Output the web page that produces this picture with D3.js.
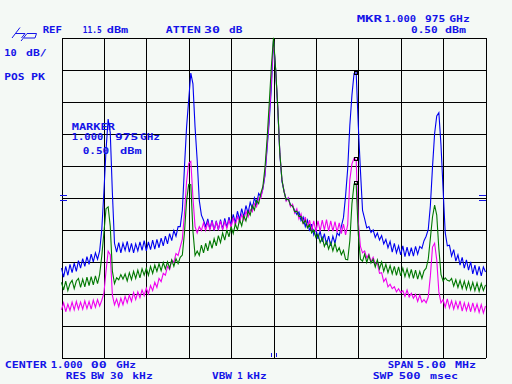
<!DOCTYPE html>
<html>
  <head>
    <script type="text/javascript" src="https://cdn.jsdelivr.net/npm/d3@7/dist/d3.min.js"></script>
    <style type="text/css">

html, body {
  margin: 0;
  background: #f4f9f5;
}

svg {
  display: block;
}

.grid line, .grid path {
  stroke: #000;
  stroke-width: 1;
  shape-rendering: crispEdges;
}

.lbl {
  font-family: "DejaVu Sans Mono", monospace;
  font-weight: bold;
  font-size: 9px;
  fill: #1414e8;
}

.trace {
  fill: none;
  stroke-width: 1.1;
}

    </style>
  </head>
  <body>
    <div id="chart"></div>
    <script type="text/javascript">

// analyzer settings
var refLevel = 11.5,      // dBm, top of screen
    dbPerDiv = 10,
    spanMHz = 5,
    sweepPoints = 201;

var markerOffset = 0.975; // MHz from center
var markerLevels = {blue: 0.5, magenta: -26.6, green: -34.1};
var displayLineLevels = [-37.6, -39.4];
var centerTicks = [-0.035, 0.027];

// traces in dBm, one value per sweep point (left to right)
var blueTrace = [
  -60.6,-63.4,-60.0,-62.8,-59.4,-62.0,-59.0,-61.6,-58.2,-60.6,
  -57.6,-60.0,-57.0,-59.4,-56.2,-58.6,-55.8,-57.8,-55.2,-48.5,
  -36.8,-23.7,-14.0,-18.2,-37.0,-52.8,-55.6,-52.6,-55.8,-52.8,
  -55.0,-52.2,-55.6,-52.8,-55.8,-53.0,-55.2,-52.4,-55.0,-52.0,
  -55.2,-52.4,-54.8,-51.8,-54.6,-51.6,-54.2,-51.2,-53.6,-50.6,
  -53.0,-49.8,-52.0,-48.8,-50.6,-47.6,-47.6,-42.5,-29.0,-16.5,
  -8.0,0.4,-3.0,-16.5,-26.8,-39.5,-44.0,-45.6,-47.6,-45.2,
  -48.4,-45.6,-48.8,-45.8,-48.6,-45.4,-48.4,-45.0,-47.8,-44.6,
  -47.2,-43.8,-46.4,-42.8,-45.4,-42.0,-44.6,-41.0,-43.4,-40.0,
  -42.0,-38.6,-40.6,-37.2,-38.2,-35.8,-31.5,-23.0,-14.5,-4.0,
  10.5,1.5,-10.5,-25.0,-33.5,-36.6,-39.4,-38.6,-41.0,-41.0,
  -42.6,-43.8,-43.0,-45.8,-44.6,-47.6,-45.6,-49.0,-46.8,-50.2,
  -48.2,-51.4,-49.0,-52.4,-49.8,-53.2,-50.6,-53.6,-50.6,-52.8,
  -49.6,-50.4,-47.5,-44.8,-38.0,-29.5,-16.0,-6.5,0.3,0.5,
  -16.0,-30.0,-42.5,-45.2,-48.0,-47.6,-49.4,-48.6,-51.0,-49.6,
  -51.8,-50.4,-53.0,-51.6,-54.2,-52.2,-55.6,-52.8,-55.8,-53.6,
  -56.4,-53.6,-57.0,-54.0,-56.8,-54.2,-56.8,-53.8,-56.2,-53.8,
  -54.4,-52.0,-50.6,-48.5,-41.0,-29.0,-18.5,-13.0,-12.0,-22.0,
  -36.0,-49.5,-53.6,-53.4,-56.8,-54.8,-58.4,-56.4,-59.6,-57.2,
  -60.6,-58.0,-61.2,-58.6,-62.4,-59.6,-62.8,-60.0,-63.0,-60.2,
  -61.8
];

var magentaTrace = [
  -73.6,-71.4,-74.2,-71.8,-73.8,-71.2,-73.6,-71.0,-73.4,-71.2,
  -73.4,-70.8,-73.2,-71.0,-73.4,-70.6,-72.8,-70.4,-72.4,-70.6,
  -68.4,-61.5,-55.3,-56.4,-69.0,-72.0,-70.2,-72.6,-70.0,-72.0,
  -69.4,-71.4,-69.0,-71.0,-68.2,-70.4,-68.0,-69.8,-67.4,-69.2,
  -66.8,-68.6,-66.0,-67.6,-65.0,-66.6,-63.8,-64.8,-62.2,-62.8,
  -60.0,-61.0,-58.0,-58.8,-56.0,-56.6,-54.0,-51.5,-43.5,-33.5,
  -27.8,-27.2,-38.5,-47.6,-49.6,-47.6,-48.8,-46.4,-48.8,-46.2,
  -48.6,-46.0,-48.8,-46.2,-48.4,-45.8,-48.6,-46.0,-48.2,-45.6,
  -47.8,-44.8,-47.2,-44.4,-46.2,-43.8,-45.6,-42.8,-44.6,-42.2,
  -43.0,-40.4,-41.4,-38.6,-38.8,-35.6,-31.0,-22.0,-13.0,-2.0,
  10.8,1.6,-10.2,-24.6,-33.2,-36.4,-39.6,-38.6,-41.4,-40.6,
  -43.4,-42.0,-45.2,-43.6,-46.8,-44.6,-47.8,-45.6,-48.8,-45.8,
  -49.2,-45.8,-49.0,-45.6,-48.6,-45.4,-49.0,-45.8,-49.0,-46.0,
  -49.4,-46.4,-49.8,-46.8,-50.2,-47.0,-33.0,-28.0,-26.2,-26.8,
  -46.0,-53.8,-55.8,-55.2,-57.4,-56.2,-58.6,-57.2,-59.2,-59.0,
  -62.2,-62.0,-64.8,-63.8,-66.4,-65.6,-67.0,-66.4,-68.0,-67.0,
  -68.2,-67.6,-69.4,-67.4,-69.6,-68.4,-70.0,-68.8,-71.0,-69.0,
  -71.2,-70.4,-71.4,-69.6,-63.0,-54.0,-52.8,-58.0,-68.0,-71.4,
  -70.4,-72.8,-70.2,-73.0,-70.8,-73.4,-71.0,-73.2,-70.8,-74.0,
  -71.4,-73.8,-71.6,-74.2,-71.4,-74.0,-71.8,-74.4,-72.0,-74.6,
  -72.4
];

var greenTrace = [
  -65.0,-67.4,-64.6,-67.6,-65.4,-64.4,-67.0,-64.6,-63.8,-66.6,
  -64.0,-66.4,-63.4,-66.0,-63.2,-65.8,-63.0,-65.4,-62.5,-56.8,
  -49.5,-42.0,-41.4,-47.5,-61.5,-65.4,-63.6,-64.2,-62.6,-64.0,
  -62.4,-64.6,-62.0,-64.2,-61.6,-63.8,-61.2,-63.6,-60.8,-62.8,
  -60.6,-62.8,-60.0,-62.2,-59.6,-61.6,-59.2,-61.4,-58.8,-60.8,
  -58.6,-60.6,-58.0,-60.0,-57.6,-59.2,-57.2,-56.5,-49.5,-39.5,
  -34.4,-34.5,-49.0,-56.6,-55.2,-56.6,-53.4,-55.8,-52.8,-55.2,
  -52.0,-54.4,-51.4,-53.6,-50.4,-52.6,-49.6,-51.8,-48.6,-50.8,
  -47.6,-49.8,-46.8,-48.6,-45.4,-47.4,-44.2,-45.8,-42.8,-44.0,
  -41.0,-42.4,-39.4,-40.4,-37.2,-35.0,-29.0,-20.0,-9.0,2.5,
  11.4,1.8,-10.0,-24.8,-33.0,-36.8,-39.2,-39.0,-40.8,-41.2,
  -43.0,-42.8,-44.4,-44.4,-46.6,-45.6,-48.0,-47.0,-49.6,-48.6,
  -51.0,-50.0,-52.6,-51.0,-53.8,-52.2,-54.6,-52.6,-55.2,-52.8,
  -55.4,-54.2,-56.4,-55.0,-57.8,-58.0,-52.0,-40.5,-34.3,-34.2,
  -50.0,-57.8,-58.4,-56.2,-58.8,-56.6,-59.0,-57.8,-60.2,-58.0,
  -60.8,-58.6,-61.6,-59.4,-62.0,-59.8,-62.4,-60.0,-62.8,-60.2,
  -63.0,-60.6,-63.2,-60.8,-63.4,-61.0,-63.8,-61.2,-64.0,-61.6,
  -63.8,-61.4,-60.6,-57.8,-51.2,-44.6,-40.9,-44.0,-54.5,-62.5,
  -64.6,-63.6,-64.4,-64.6,-63.8,-66.2,-64.2,-66.6,-64.4,-67.0,
  -64.6,-67.2,-64.8,-67.4,-65.0,-67.6,-65.2,-67.8,-65.4,-67.6,
  -65.8
];

// screen annotations, word by word: [text, left, right, baseline]
var labels = [
  ["REF", 42.7, 62.0, 32.7], ["11.5", 82.7, 101.7, 32.7], ["dBm", 106.7, 128.3, 32.7],
  ["ATTEN", 165.7, 200.7, 32.7], ["30", 204, 220, 32.7], ["dB", 229, 242.3, 32.7],
  ["MKR", 356.7, 382, 22], ["1.000", 384.5, 416, 22], ["975", 425, 445.3, 22], ["GHz", 449.3, 469.7, 22],
  ["0.50", 411, 437.7, 32.7], ["dBm", 445, 466, 32.7],
  ["10", 4.3, 16.7, 56], ["dB/", 26, 46.7, 56],
  ["POS", 4.3, 24.5, 79.5], ["PK", 31, 45, 79.5],
  ["MARKER", 71.7, 115, 129.8],
  ["1.000", 71.7, 103.3, 139.6], ["975", 115, 138.3, 139.6], ["GHz", 140, 160, 139.6],
  ["0.50", 82.7, 109.3, 154.3], ["dBm", 120, 141.7, 154.3],
  ["CENTER", 4.7, 46.7, 368], ["1.000", 50.7, 82.7, 368], ["00", 90.7, 106.7, 368], ["GHz", 116, 136, 368],
  ["SPAN", 387.7, 413.3, 368], ["5.00", 416.7, 446, 368], ["MHz", 455, 476, 368],
  ["RES", 65.7, 86, 379.3], ["BW", 90.7, 104, 379.3], ["30", 110, 123.3, 379.3], ["kHz", 132.3, 152.7, 379.3],
  ["VBW", 212, 232, 379.3], ["1", 237.3, 242, 379.3], ["kHz", 246.7, 266.7, 379.3],
  ["SWP", 372.7, 393.3, 379.3], ["500", 398.7, 420.7, 379.3], ["msec", 430, 458, 379.3]
];

var width = 512,
    height = 384;

var freqs = d3.range(sweepPoints).map(function(i) {
  return -spanMHz / 2 + i * spanMHz / (sweepPoints - 1);
});

var x = d3.scaleLinear().domain([-spanMHz / 2, spanMHz / 2]).range([61.5, 485.5]);
var y = d3.scaleLinear().domain([refLevel - 10 * dbPerDiv, refLevel]).range([357.5, 37.5]);

var svg = d3.select("#chart").append("svg")
    .attr("width", width)
    .attr("height", height);

// graticule
var yLevels = d3.range(0, 11).map(function(i) { return refLevel - i * dbPerDiv; });

svg.append("g")
    .attr("class", "grid")
    .attr("transform", "translate(0," + y.range()[0] + ")")
    .call(d3.axisBottom(x).tickValues(x.ticks(10)).tickSize(-(y.range()[0] - y.range()[1])).tickSizeOuter(0).tickFormat(""));

svg.append("g")
    .attr("class", "grid")
    .attr("transform", "translate(" + x.range()[0] + ",0)")
    .call(d3.axisLeft(y).tickValues(yLevels).tickSize(-(x.range()[1] - x.range()[0])).tickSizeOuter(0).tickFormat(""));

svg.selectAll(".grid path").remove();

// display line marks at both edges
displayLineLevels.forEach(function(v) {
  svg.append("line").attr("x1", 60).attr("x2", 67).attr("y1", Math.round(y(v)) + 0.5).attr("y2", Math.round(y(v)) + 0.5)
      .attr("stroke", "#1414e8");
  svg.append("line").attr("x1", 479).attr("x2", 486).attr("y1", Math.round(y(v)) + 0.5).attr("y2", Math.round(y(v)) + 0.5)
      .attr("stroke", "#1414e8");
});

centerTicks.forEach(function(f) {
  svg.append("line").attr("x1", Math.round(x(f)) + 0.5).attr("x2", Math.round(x(f)) + 0.5)
      .attr("y1", 353).attr("y2", 357).attr("stroke", "#1414e8");
});

// traces
var line = d3.line()
    .x(function(d, i) { return x(freqs[i]); })
    .y(function(d) { return y(d); });

var traces = [
  {name: "blue", color: "#0000f0", values: blueTrace},
  {name: "magenta", color: "#f000f0", values: magentaTrace},
  {name: "green", color: "#007800", values: greenTrace}
];

svg.append("g").selectAll("path")
    .data(traces)
  .enter().append("path")
    .attr("class", "trace")
    .attr("stroke", function(d) { return d.color; })
    .attr("d", function(d) { return line(d.values); });

// marker symbols
svg.append("g").selectAll("rect")
    .data(traces)
  .enter().append("rect")
    .attr("x", Math.round(x(markerOffset)) - 1.5)
    .attr("y", function(d) { return Math.round(y(markerLevels[d.name])) - 1.5; })
    .attr("width", 3)
    .attr("height", 3)
    .attr("fill", "none")
    .attr("stroke", "#000");

// hp logo
svg.append("path")
    .attr("d", "M12,38 L20,27.5 M15.5,33.5 L25,33.5 L21.5,38 M24,38 L35,38 L36.5,33.5 L27,33.5 L21,41")
    .attr("fill", "none")
    .attr("stroke", "#1414e8")
    .attr("stroke-width", 1);

svg.append("g").selectAll("text")
    .data(labels)
  .enter().append("text")
    .attr("class", "lbl")
    .attr("x", function(d) { return d[1]; })
    .attr("y", function(d) { return d[3]; })
    .attr("textLength", function(d) { return d[0].length > 1 ? d[2] - d[1] : null; })
    .attr("lengthAdjust", "spacingAndGlyphs")
    .text(function(d) { return d[0]; });

    </script>
  </body>
</html>
